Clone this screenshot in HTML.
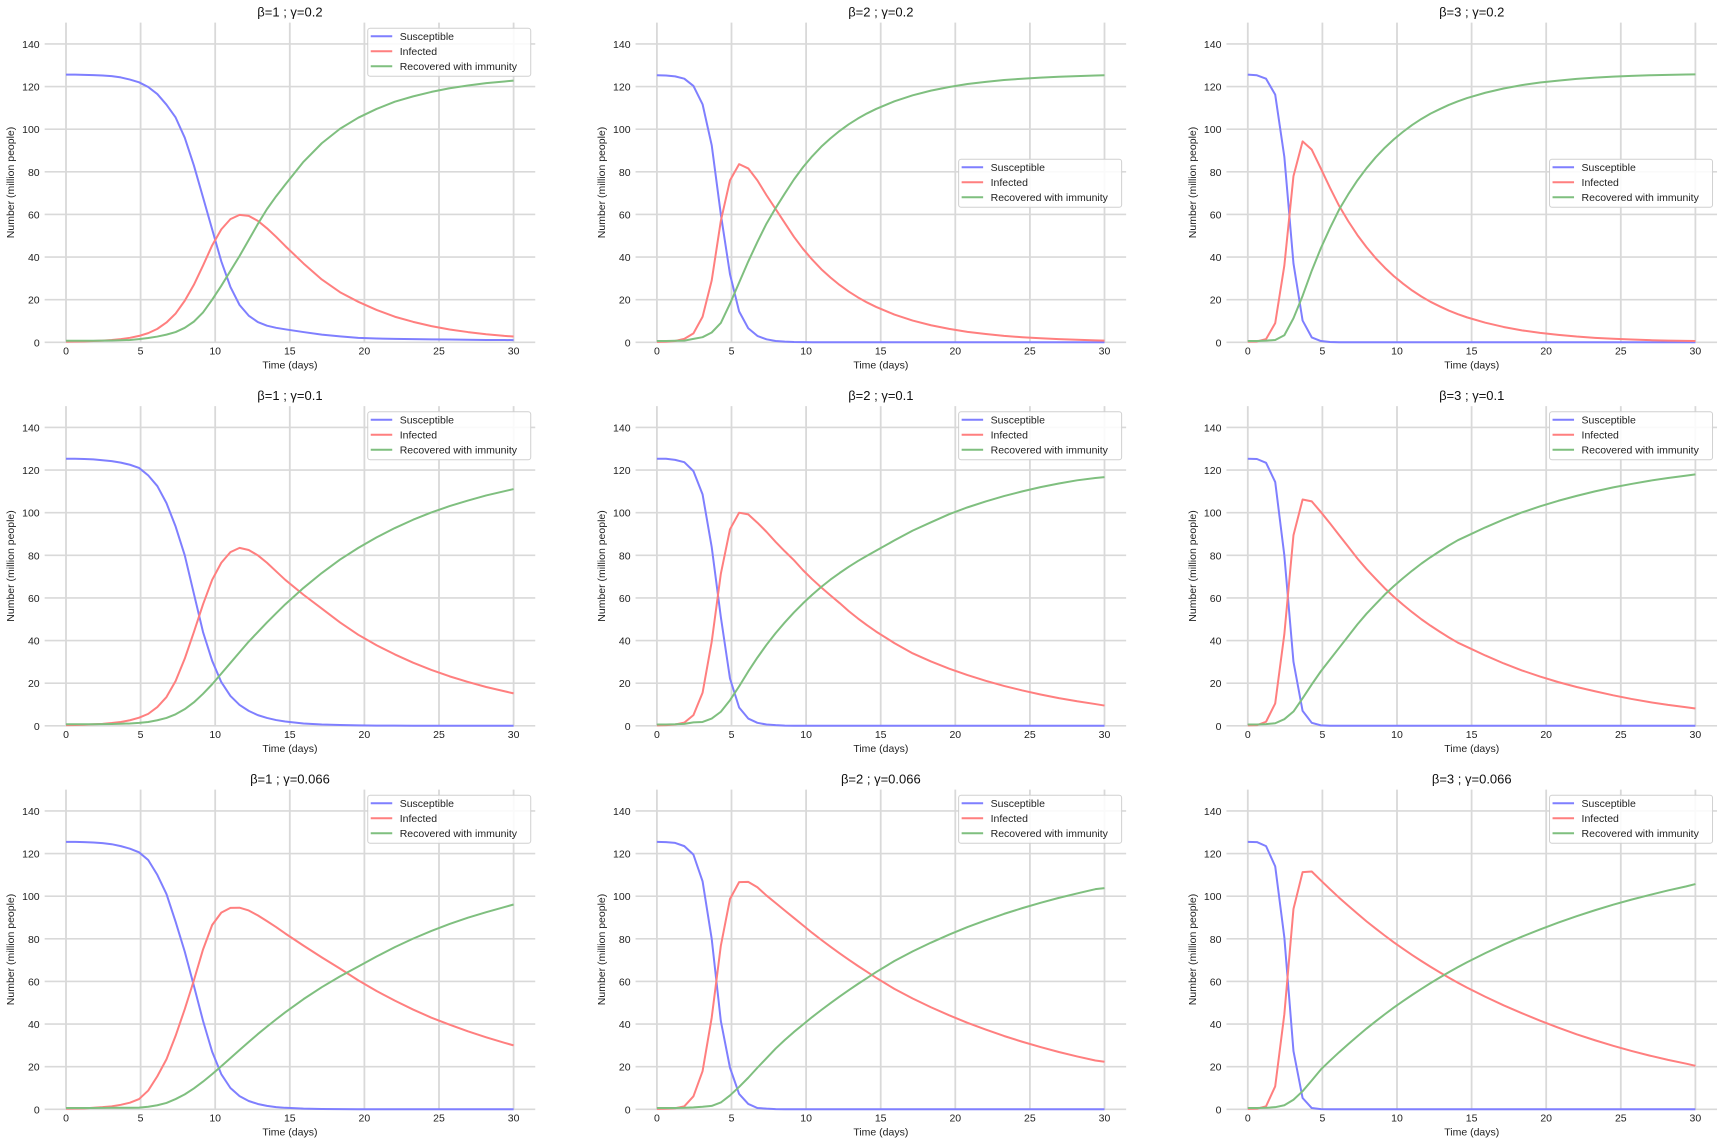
<!DOCTYPE html>
<html>
<head>
<meta charset="utf-8">
<style>
  html,body{margin:0;padding:0;background:#fff;}
  svg{display:block;font-family:"Liberation Sans",sans-serif;}
</style>
</head>
<body>
<svg id="fig" width="1724" height="1145" viewBox="0 0 1724 1145" xmlns="http://www.w3.org/2000/svg"></svg>
<script>
// ---- shared data ----
const times = [0,0.612,1.224,1.837,2.449,3.061,3.673,4.286,4.898,5.510,6.122,6.735,7.347,7.959,8.571,9.184,9.796,10.408,11.020,11.633,12.245,12.857,13.469,14.082,14.694,15.918,17.143,18.367,19.592,20.816,22.041,23.265,24.490,25.714,26.939,28.163,29.388,30];
const xTicks = [0,5,10,15,20,25,30];
const yTicks = [0,20,40,60,80,100,120,140];
const seriesNames = ["Susceptible","Infected","Recovered with immunity"];
const betas = [1,2,3];
const gammas = ["0.2","0.1","0.066"];

// row 1: gamma 0.2
const S_b1_g02 = [125.6,125.6,125.5,125.4,125.2,124.9,124.3,123.3,122,119.8,116.5,111.5,105.5,96,83,68,53,38,26,17.5,12.5,9.5,7.8,6.8,6.1,4.8,3.6,2.8,2.1,1.8,1.6,1.5,1.4,1.3,1.2,1.1,1.1,1.0];
const I_b1_g02 = [0.3,0.35,0.45,0.6,0.8,1.1,1.5,2.1,3.0,4.3,6.3,9.3,13.5,19.5,27,36,45.5,53,57.8,59.8,59.3,57,53.5,49.5,45.2,37,29.5,23.5,19,15.2,12,9.6,7.6,6.0,4.8,3.8,3.0,2.7];
const R_b1_g02 = [0.7,0.7,0.7,0.75,0.8,0.85,0.95,1.1,1.5,2.0,2.7,3.6,4.8,6.8,9.7,14,20,26.5,33.5,40.5,48,55.5,62.5,68.5,74,84.7,93.4,100.2,105.4,109.5,112.9,115.4,117.5,119.2,120.5,121.6,122.4,122.8];

const S_b2_g02 = [125.3,125.2,124.8,123.7,120.3,111.7,92.5,60,32,14.5,6.6,3.0,1.4,0.6,0.3,0.15,0.1,0.05,0,0,0,0,0,0,0,0,0,0,0,0,0,0,0,0,0,0,0,0];
const I_b2_g02 = [0.2,0.3,0.6,1.6,4.2,12,29,57,76,83.6,81.6,76,69,62.5,56,49.5,43.8,38.8,34.3,30.4,26.9,23.8,21.1,18.7,16.6,13,10.2,8,6.3,4.9,3.9,3,2.4,1.9,1.5,1.2,0.9,0.8];
const R_b2_g02 = [0.6,0.6,0.7,0.8,1.6,2.4,4.6,9.1,18.1,28,37.9,47.1,55.7,63,69.8,76.4,82.2,87.3,91.8,95.7,99.2,102.3,105,107.4,109.5,113.1,115.9,118.1,119.8,121.2,122.2,123.1,123.7,124.2,124.6,124.9,125.2,125.3];

const S_b3_g02 = [125.6,125.3,123.7,116.2,87,37,10.2,2.3,0.6,0.15,0.05,0,0,0,0,0,0,0,0,0,0,0,0,0,0,0,0,0,0,0,0,0,0,0,0,0,0,0];
const I_b3_g02 = [0.3,0.4,1.5,9,36,78,94.3,90.4,81.5,72.5,64,56.8,50.3,44.6,39.5,35,31,27.5,24.3,21.5,19,16.9,14.9,13.2,11.7,9.2,7.2,5.6,4.4,3.5,2.7,2.1,1.65,1.3,1.0,0.8,0.65,0.6];
const R_b3_g02 = [0.6,0.6,0.8,1.1,3.3,11.3,21.8,33.6,44.2,53.6,62.3,69.5,76,81.7,86.8,91.3,95.3,98.8,102,104.8,107.3,109.4,111.4,113.1,114.6,117.1,119.1,120.7,121.9,122.8,123.6,124.2,124.65,125,125.3,125.5,125.65,125.7];

// row 2: gamma 0.1
const S_b1_g01 = [125.3,125.3,125.2,125,124.6,124.2,123.5,122.5,121,117.5,112.5,104.5,93.5,80,62,44,30.5,20.5,14,9.8,7,5,3.7,2.7,2.0,1.1,0.6,0.35,0.2,0.1,0.1,0.05,0,0,0,0,0,0];
const I_b1_g01 = [0.3,0.4,0.5,0.7,0.9,1.3,1.8,2.6,3.8,5.6,8.8,13.5,21,31.5,44,57,68.5,76.5,81.5,83.5,82.5,80,76.5,72.5,68.5,61.5,55,48.5,42.7,37.8,33.5,29.6,26.2,23.2,20.6,18.2,16.2,15.2];
const R_b1_g01 = [0.7,0.7,0.7,0.75,0.8,0.85,0.95,1.1,1.35,1.8,2.6,3.7,5.4,7.8,11,15,19.5,24.5,29.5,34.5,39.5,44,48.5,52.8,57,64.7,71.7,78,83.5,88.4,92.8,96.7,100.1,103.1,105.7,108.1,110.1,111.1];

const S_b2_g01 = [125.3,125.3,124.8,123.7,119.5,108.6,83.9,51,22.2,8.6,3.4,1.4,0.6,0.3,0.1,0,0,0,0,0,0,0,0,0,0,0,0,0,0,0,0,0,0,0,0,0,0,0];
const I_b2_g01 = [0.2,0.3,0.6,1.5,5,15.5,39.4,71.4,92.2,100,99.2,95.3,91,86.3,81.9,77.7,73,68.8,64.9,61.2,57.6,53.8,50.4,47.2,44.2,38.8,34,30.2,26.8,23.8,21.1,18.7,16.6,14.7,13,11.5,10.2,9.5];
const R_b2_g01 = [0.6,0.6,0.7,0.9,1.6,1.8,3.4,6.6,12,18.5,25.5,32,38,43.5,48.5,53.2,57.5,61.5,65.2,68.6,71.7,74.6,77.3,79.8,82.2,87,91.6,95.5,99.3,102.5,105.3,107.8,110,112,113.7,115.2,116.3,116.7];

const S_b3_g01 = [125.3,125.2,123.4,114.4,80,30,7,1.4,0.2,0,0,0,0,0,0,0,0,0,0,0,0,0,0,0,0,0,0,0,0,0,0,0,0,0,0,0,0,0];
const I_b3_g01 = [0.2,0.3,1.9,10.5,43,89.4,106.2,105.3,100.3,95,89.5,84,78.5,73.5,69,64.5,60.5,56.8,53.3,50,47,44.2,41.5,39,37,33,29.3,26,23.1,20.5,18.2,16.2,14.3,12.6,11.1,9.8,8.7,8.1];
const R_b3_g01 = [0.6,0.6,0.8,1.2,3.1,6.7,12.9,19.4,25.6,31.1,36.6,42.1,47.6,52.6,57.1,61.6,65.6,69.3,72.8,76.1,79.1,81.9,84.6,87.1,89.1,93.1,96.8,100.1,103,105.6,107.9,110,111.9,113.5,115,116.3,117.4,118];

// row 3: gamma 0.066
const S_b1_g0066 = [125.5,125.5,125.4,125.2,124.9,124.4,123.5,122.3,120.6,117,110,101,88,74,58,41.5,27,16.5,10,6.2,3.9,2.5,1.6,1.0,0.7,0.3,0.15,0.07,0,0,0,0,0,0,0,0,0,0];
const I_b1_g0066 = [0.3,0.35,0.45,0.7,1.0,1.4,2.1,3.1,4.8,8.8,15.5,23.5,34.5,47,60.5,75,86.5,92.3,94.5,94.6,93.3,91,88.3,85.5,82.5,76.8,71.3,66,60.5,55.5,51,46.8,43,39.7,36.6,33.8,31.2,30];
const R_b1_g0066 = [0.6,0.6,0.6,0.6,0.65,0.7,0.7,0.75,0.8,1.2,1.9,3,4.8,7,9.8,13,16.5,20.2,24,27.8,31.6,35.3,38.8,42.2,45.5,51.7,57.3,62.4,67,71.7,76.1,80.1,83.7,87,89.9,92.5,94.9,96.1];

const S_b2_g0066 = [125.5,125.4,125,123.5,119.5,107,80,41.4,19.5,7.2,2.5,0.6,0.3,0.1,0,0,0,0,0,0,0,0,0,0,0,0,0,0,0,0,0,0,0,0,0,0,0,0];
const I_b2_g0066 = [0.2,0.3,0.5,1.4,6.1,17.9,43,76.8,98.7,106.6,106.7,104.2,100.3,96.8,93.3,89.8,86.3,82.8,79.5,76.3,73.2,70.2,67.3,64.5,61.7,56.5,52,47.9,44.1,40.6,37.4,34.4,31.7,29.2,26.9,24.8,22.9,22.3];
const R_b2_g0066 = [0.6,0.6,0.6,0.7,0.9,1.2,1.6,3.2,6.5,10.5,14.8,19.5,24,28.5,32.5,36.3,39.8,43.3,46.6,49.8,52.9,55.9,58.8,61.6,64.4,69.6,74.1,78.2,82,85.5,88.7,91.7,94.4,96.9,99.2,101.3,103.3,103.8];

const S_b3_g0066 = [125.5,125.4,123.5,114,80.7,27.3,5.3,0.6,0.1,0,0,0,0,0,0,0,0,0,0,0,0,0,0,0,0,0,0,0,0,0,0,0,0,0,0,0,0,0];
const I_b3_g0066 = [0.2,0.3,1.4,10.8,44.6,94,111.3,111.6,107.4,103.3,99.3,95.5,91.8,88.2,84.8,81.5,78.3,75.3,72.4,69.6,66.9,64.3,61.8,59.4,57.1,52.8,48.8,45.1,41.6,38.3,35.2,32.4,29.8,27.4,25.2,23.2,21.4,20.4];
const R_b3_g0066 = [0.6,0.6,0.7,1.0,1.9,4.5,8.5,13.5,18.7,22.8,26.8,30.6,34.3,37.9,41.3,44.6,47.8,50.8,53.7,56.5,59.2,61.8,64.3,66.7,69,73.3,77.3,81,84.4,87.6,90.6,93.4,96,98.4,100.6,102.7,104.6,105.7];

const panelSeries = [
  [[S_b1_g02,I_b1_g02,R_b1_g02],[S_b2_g02,I_b2_g02,R_b2_g02],[S_b3_g02,I_b3_g02,R_b3_g02]],
  [[S_b1_g01,I_b1_g01,R_b1_g01],[S_b2_g01,I_b2_g01,R_b2_g01],[S_b3_g01,I_b3_g01,R_b3_g01]],
  [[S_b1_g0066,I_b1_g0066,R_b1_g0066],[S_b2_g0066,I_b2_g0066,R_b2_g0066],[S_b3_g0066,I_b3_g0066,R_b3_g0066]]
];

// ---- drawing ----
const NS = "http://www.w3.org/2000/svg";
const svg = document.getElementById("fig");
const colors = ["#7f7fff","#ff7f7f","#7fbf7f"];
const PX_DAY = 14.92, PX_UNIT = 2.131;

function mk(tag, attrs, parent){
  const e = document.createElementNS(NS, tag);
  for (const k in attrs) e.setAttribute(k, attrs[k]);
  (parent||svg).appendChild(e);
  return e;
}

for (let row = 0; row < 3; row++) {
  for (let col = 0; col < 3; col++) {
    const x0 = 66 + 590.9*col;
    const y0 = 342.3 + 383.5*row;
    const xs = t => x0 + t*PX_DAY;
    const ys = v => y0 - v*PX_UNIT;
    const left = xs(-1.43), right = xs(31.45), top = ys(150), bottom = y0;

    const g = mk("g", {});
    
    

    for (const v of yTicks) {
      const l = mk("line", {x1:left, x2:right, y1:ys(v), y2:ys(v), stroke:"#d9d9d9", "stroke-width":1.6}, g);
      
      
      const tl = mk("text", {x:left-5, y:ys(v)+4, "text-anchor":"end", "font-size":"10.5", fill:"#222"}, g);
      tl.textContent = v;
      
      
    }
    for (const t of xTicks) {
      const l = mk("line", {x1:xs(t), x2:xs(t), y1:top, y2:bottom, stroke:"#d9d9d9", "stroke-width":1.8}, g);
      
      
      const tl = mk("text", {x:xs(t), y:bottom+12, "text-anchor":"middle", "font-size":"10.5", fill:"#222"}, g);
      tl.textContent = t;
      
      
    }

    const ser = panelSeries[row][col];
    for (let s = 0; s < 3; s++) {
      const pts = times.map((t,i) => xs(t).toFixed(2) + "," + ys(ser[s][i]).toFixed(2)).join(" ");
      const pl = mk("polyline", {points:pts, fill:"none", stroke:colors[s], "stroke-width":2, "stroke-linejoin":"round"}, g);
      
      
    }

    const title = mk("text", {x:(left+right)/2, y:top-6, "text-anchor":"middle", "font-size":"13", fill:"#111"}, g);
    title.textContent = "\u03b2=" + betas[col] + " ; \u03b3=" + gammas[row];
    
    

    const xl = mk("text", {x:(left+right)/2, y:bottom+26, "text-anchor":"middle", "font-size":"10.5", fill:"#222"}, g);
    xl.textContent = "Time (days)";
    
    
    const ycx = x0 - 55.5, ycy = (top+bottom)/2;
    const yl = mk("text", {x:ycx, y:ycy, "text-anchor":"middle", "font-size":"10.5", fill:"#222", transform:"rotate(-90 "+ycx+" "+ycy+")", dy:"0.35em"}, g);
    yl.textContent = "Number (million people)";
    
    

    const lw = 163, lh = 48;
    const lx = right - 4.5 - lw;
    const ly = (row === 0 && col > 0) ? top + 136.6 : top + 5.6;
    const lg = mk("g", {}, g);
    
    
    mk("rect", {x:lx, y:ly, width:lw, height:lh, rx:2.5, fill:"rgba(255,255,255,0.85)", stroke:"#d0d0d0", "stroke-width":1}, lg);
    for (let s = 0; s < 3; s++) {
      const ry = ly + 8 + s*15;
      const ent = mk("g", {}, lg);
      
      
      mk("line", {x1:lx+3, x2:lx+24.5, y1:ry, y2:ry, stroke:colors[s], "stroke-width":2}, ent);
      const tx = mk("text", {x:lx+32, y:ry+3.8, "font-size":"10.5", fill:"#222"}, ent);
      tx.textContent = seriesNames[s];
    }
  }
}
</script>
</body>
</html>
